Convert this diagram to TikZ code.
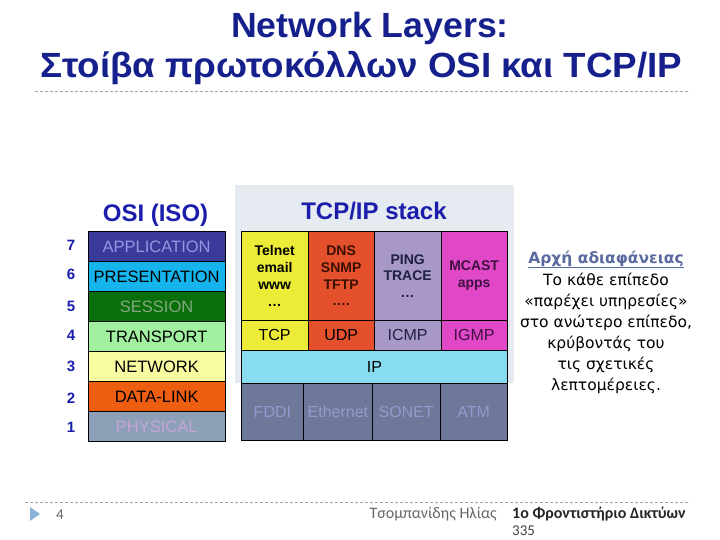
\documentclass[tikz,border=0pt]{standalone}
\usepackage{fontspec}
\usepackage{graphicx}
\setmainfont{Liberation Sans}
\newfontfamily\footfont{Carlito}
\newfontfamily\rightfont{DejaVu Sans}
\definecolor{titleblue}{RGB}{22,32,140}
\definecolor{hdrblue}{RGB}{26,30,170}
\definecolor{panel}{RGB}{230,234,241}
\definecolor{appbg}{RGB}{58,58,154}\definecolor{apptx}{RGB}{150,150,226}
\definecolor{prebg}{RGB}{22,180,236}
\definecolor{sesbg}{RGB}{10,110,10}\definecolor{sestx}{RGB}{130,168,130}
\definecolor{trabg}{RGB}{160,240,160}
\definecolor{netbg}{RGB}{248,252,160}
\definecolor{dlbg}{RGB}{238,94,16}
\definecolor{phybg}{RGB}{142,160,184}\definecolor{phytx}{RGB}{196,166,212}
\definecolor{ycol}{RGB}{236,236,56}
\definecolor{ocol}{RGB}{228,80,44}\definecolor{otx}{RGB}{58,16,0}
\definecolor{lcol}{RGB}{168,152,200}\definecolor{ltx}{RGB}{32,32,64}
\definecolor{mcol}{RGB}{224,72,200}\definecolor{mtx}{RGB}{64,16,64}
\definecolor{ipbg}{RGB}{136,220,240}
\definecolor{linkbg}{RGB}{110,120,152}\definecolor{linktx}{RGB}{152,152,208}
\definecolor{ruleclr}{RGB}{160,165,180}
\definecolor{headclr}{RGB}{90,106,160}
\definecolor{tri}{RGB}{140,180,216}
\begin{document}
\begin{tikzpicture}[x=1pt,y=-1pt,
  cell/.style={draw=black,line width=0.8pt,inner sep=0pt,anchor=north west,align=center},
  osi/.style={cell,minimum width=137.5pt,minimum height=30pt,font=\fontsize{16.5}{18}\selectfont},
  num/.style={text=hdrblue,font=\bfseries\fontsize{15}{17}\selectfont},
  appc/.style={cell,minimum width=66.5pt,minimum height=89pt,font=\bfseries\fontsize{14}{16.7}\selectfont},
  trc/.style={cell,minimum width=66.5pt,minimum height=30pt,font=\fontsize{16}{18}\selectfont},
  lnk/.style={cell,minimum height=57pt,fill=linkbg,text=linktx,font=\fontsize{16}{18}\selectfont},
  ttl/.style={anchor=base,text=titleblue,inner sep=0pt,font=\bfseries\fontsize{35}{38}\selectfont},
  rule/.style={draw=ruleclr,dash pattern=on 3pt off 2pt,line width=0.6pt}]
\useasboundingbox (0,0) rectangle (720,540);
% title
\node[ttl] (t1) at (370,38) {\scalebox{1.02}[1]{Network Layers:}};
\node[ttl] (t2) at (361.5,78) {\scalebox{1.05}[1]{Στοίβα πρωτοκόλλων OSI και TCP/IP}};
\coordinate (r1a) at (35,91); \coordinate (r1b) at (690,91);
\draw[rule] (r1a) -- (r1b);
% panel
\fill[panel] (235,185) rectangle (514,383);
% OSI
\node[anchor=base,inner sep=0pt,text=hdrblue,font=\bfseries\fontsize{24}{26}\selectfont] (osih) at (155.5,222) {OSI (ISO)};
\node[osi,fill=appbg,text=apptx] (l7) at (87.5,231) {APPLICATION};
\node[osi,fill=prebg] (l6) at (87.5,261) {PRESENTATION};
\node[osi,fill=sesbg,text=sestx] (l5) at (87.5,291) {SESSION};
\node[osi,fill=trabg] (l4) at (87.5,321) {TRANSPORT};
\node[osi,fill=netbg] (l3) at (87.5,351) {NETWORK};
\node[osi,fill=dlbg] (l2) at (87.5,381) {DATA-LINK};
\node[osi,fill=phybg,text=phytx] (l1) at (87.5,411) {PHYSICAL};
\node[num] (n7) at (71,245) {7};
\node[num] (n6) at (71,274) {6};
\node[num] (n5) at (71,306) {5};
\node[num] (n4) at (71,335) {4};
\node[num] (n3) at (71,366) {3};
\node[num] (n2) at (71,398) {2};
\node[num] (n1) at (71,427) {1};
% TCP/IP
\node[anchor=base,inner sep=0pt,text=hdrblue,font=\bfseries\fontsize{24}{26}\selectfont] (tcph) at (374,219) {TCP/IP stack};
\node[appc,fill=ycol] (a1) at (241,231) {Telnet\\email\\www\\…};
\node[appc,fill=ocol,text=otx] (a2) at (307.5,231) {DNS\\SNMP\\TFTP\\….};
\node[appc,fill=lcol,text=ltx] (a3) at (374,231) {PING\\TRACE\\…};
\node[appc,fill=mcol,text=mtx] (a4) at (440.5,231) {MCAST\\apps};
\node[trc,fill=ycol] (tcp) at (241,320) {TCP};
\node[trc,fill=ocol] (udp) at (307.5,320) {UDP};
\node[trc,fill=lcol,text=ltx] (icmp) at (374,320) {ICMP};
\node[trc,fill=mcol,text=mtx] (igmp) at (440.5,320) {IGMP};
\node[cell,fill=ipbg,minimum width=266pt,minimum height=33pt,font=\fontsize{16}{18}\selectfont] (ip) at (241,350) {IP};
\node[lnk,minimum width=62pt] (fddi) at (241,383) {FDDI};
\node[lnk,minimum width=69pt] (eth) at (303,383) {Ethernet};
\node[lnk,minimum width=67.5pt] (sonet) at (372,383) {SONET};
\node[lnk,minimum width=67.5pt] (atm) at (439.5,383) {ATM};
% right text
\node[align=center,font=\rightfont\fontsize{15.5}{21}\selectfont] (expl) at (606,322)
  {{\bfseries\color{headclr}\underline{Αρχή αδιαφάνειας}}\\[1pt]
   Το κάθε επίπεδο\\«παρέχει υπηρεσίες»\\στο ανώτερο επίπεδο,\\κρύβοντάς του\\τις σχετικές\\λεπτομέρειες.};
% footer
\coordinate (r2a) at (25,502); \coordinate (r2b) at (690,502);
\draw[rule] (r2a) -- (r2b);
\fill[tri] (30,507) -- (30,521) -- (40,514) -- cycle;
\node[anchor=base,inner sep=0pt,font=\footfont\fontsize{15}{17}\selectfont,text=black!60] (pg) at (60,519) {4};
\node[anchor=base east,inner sep=0pt,font=\footfont\fontsize{16}{17}\selectfont,text=black!60] (auth) at (497,518) {Τσομπανίδης Ηλίας};
\node[anchor=base west,inner sep=0pt,font=\footfont\bfseries\fontsize{16}{17}\selectfont,text=black!85] (crs) at (512,518) {1ο Φροντιστήριο Δικτύων};
\node[anchor=base west,inner sep=0pt,font=\footfont\fontsize{15}{17}\selectfont,text=black!75] (crs2) at (512,535) {335};
\end{tikzpicture}
\end{document}
